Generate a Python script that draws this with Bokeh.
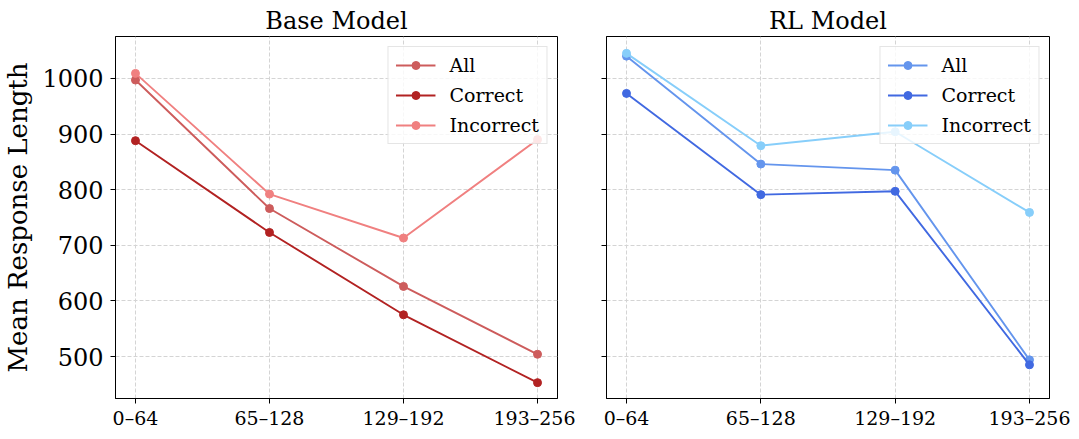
from bokeh.plotting import figure
from bokeh.models import Range1d, FixedTicker, CustomJSTickFormatter
from bokeh.layouts import row
from bokeh.embed import file_html
from bokeh.resources import INLINE

categories = ["0–64", "65–128", "129–192", "193–256"]
y_ticks = [500, 600, 700, 800, 900, 1000]

base_all = [997, 766, 626, 504]
base_correct = [888, 723, 575, 453]
base_incorrect = [1009, 792, 713, 890]

rl_all = [1040, 846, 835, 494]
rl_correct = [973, 791, 797, 485]
rl_incorrect = [1045, 879, 904, 759]

series_labels = ["All", "Correct", "Incorrect"]
base_colors = ["#CD5C5C", "#B22222", "#F08080"]
rl_colors = ["#6495ED", "#4169E1", "#87CEFA"]

FONT = "DejaVu Serif"
x = list(range(len(categories)))


def make_fig(title, series, colors, width, bl, br, show_ylabels):
    p = figure(width=width, height=431, output_backend="svg", toolbar_location=None,
               x_range=Range1d(-0.149, len(categories) - 1 + 0.149),
               y_range=Range1d(424.5, 1075.3),
               min_border_left=bl, min_border_right=br,
               min_border_top=36, min_border_bottom=29,
               title=title)
    p.title.align = "center"
    p.title.text_font = FONT
    p.title.text_font_size = "24px"
    p.title.text_font_style = "normal"
    p.title.text_color = "black"
    p.title.standoff = 3

    for vals, col, lab in zip(series, colors, series_labels):
        p.line(x, vals, line_color=col, line_width=1.9, legend_label=lab)
        p.scatter(x, vals, size=8, fill_color=col, line_color=col, legend_label=lab)

    p.outline_line_color = "black"
    p.outline_line_width = 1
    p.background_fill_color = "white"
    p.border_fill_color = "white"

    p.xaxis.ticker = FixedTicker(ticks=x)
    p.xaxis.major_label_overrides = {i: c for i, c in enumerate(categories)}
    p.yaxis.ticker = FixedTicker(ticks=y_ticks)
    for ax in (p.xaxis[0], p.yaxis[0]):
        ax.major_tick_in = 0
        ax.major_tick_out = 5
        ax.minor_tick_out = 0
        ax.minor_tick_in = 0
        ax.axis_line_color = "black"
        ax.major_tick_line_color = "black"
        ax.major_label_text_font = FONT
        ax.major_label_text_color = "black"
    p.xaxis.major_label_text_font_size = "19px"
    p.xaxis.major_label_standoff = 3
    p.yaxis.major_label_text_font_size = "24px"
    p.yaxis.major_label_standoff = 7
    if show_ylabels:
        p.yaxis.axis_label = "Mean Response Length"
        p.yaxis.axis_label_text_font = FONT
        p.yaxis.axis_label_text_font_size = "26px"
        p.yaxis.axis_label_text_font_style = "normal"
        p.yaxis.axis_label_text_color = "black"
        p.yaxis.axis_label_standoff = 6
    else:
        p.yaxis.formatter = CustomJSTickFormatter(code="return '';")
        p.yaxis.major_label_standoff = 0

    p.grid.grid_line_color = "#d4d4d4"
    p.grid.grid_line_dash = "4 2"
    p.grid.grid_line_width = 1

    lg = p.legend[0]
    lg.location = "top_right"
    lg.margin = 10
    lg.padding = 7
    lg.spacing = 8
    lg.label_height = 20
    lg.glyph_height = 20
    lg.glyph_width = 40
    lg.label_standoff = 14
    lg.label_text_font = FONT
    lg.label_text_font_size = "19px"
    lg.label_text_color = "black"
    lg.border_line_color = "#cccccc"
    lg.border_line_width = 1
    lg.background_fill_color = "white"
    lg.background_fill_alpha = 0.8
    return p


p1 = make_fig("Base Model", [base_all, base_correct, base_incorrect], base_colors,
              575, 113, 18, True)
p2 = make_fig("RL Model", [rl_all, rl_correct, rl_incorrect], rl_colors,
              496, 31, 22, False)

layout = row(p1, p2)
open("out.html", "w").write(file_html(layout, INLINE))
